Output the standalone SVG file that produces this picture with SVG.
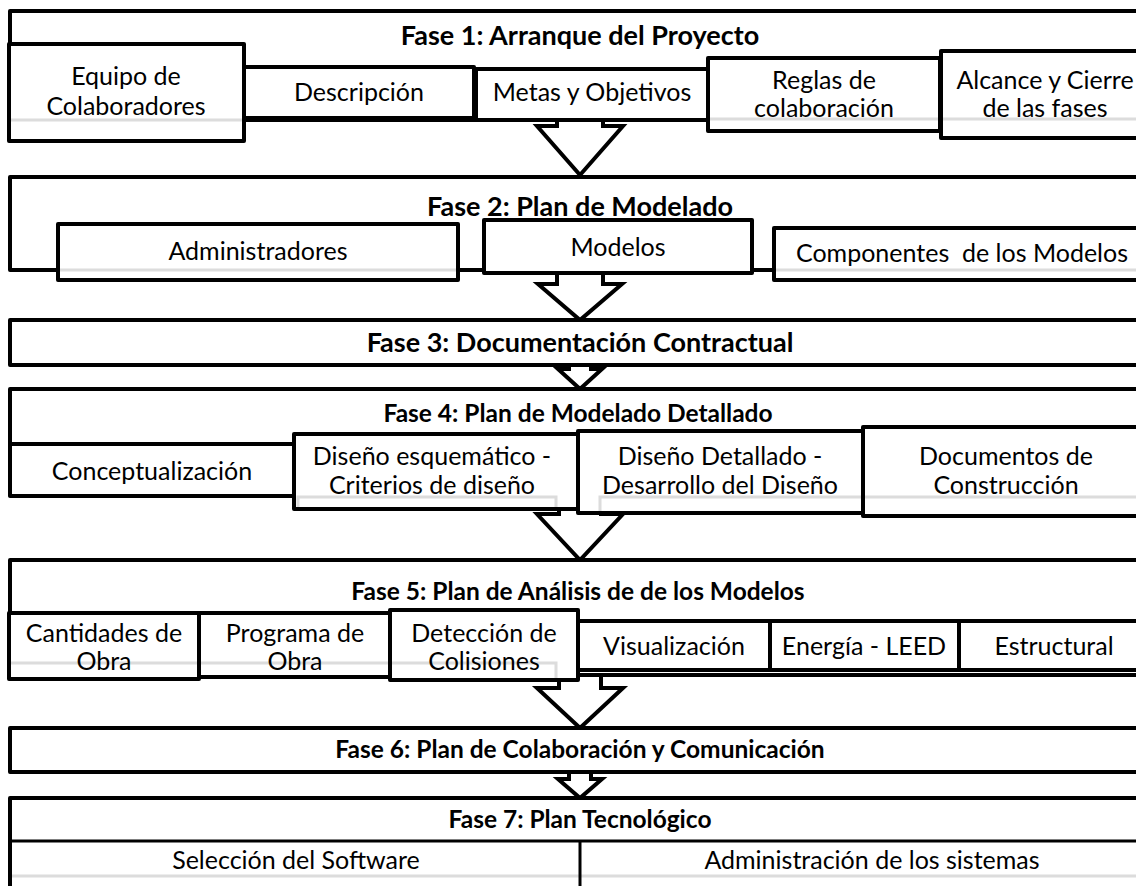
<svg xmlns="http://www.w3.org/2000/svg" width="1136" height="886" viewBox="0 0 1136 886">
  <style>
    .box{fill:#fff;stroke:#000;stroke-width:4;stroke-linejoin:round}
    .arrow{fill:#fff;stroke:#000;stroke-width:4;stroke-linejoin:miter}
    .grid{fill:none;stroke:#dcdcdc;stroke-width:3}
    .rule{fill:none;stroke:#000;stroke-width:3}
    text{font-family:Lato,"Open Sans",sans-serif;font-size:25px;fill:#000;text-anchor:middle}
    .h{font-weight:bold;font-size:27px}
    .hs{font-weight:bold;font-size:24.5px}
  </style>
  <rect width="1136" height="886" fill="#fff"/>

  <!-- flow arrows between phases -->
  <g id="connectors">
    <path class="arrow" d="M557,112 V126 H537 L580,175 L623,126 H603 V112 Z"/>
    <path class="arrow" d="M557,265 V284 H538 L580,320 L622,284 H603 V265 Z"/>
    <path class="arrow" d="M569,355 V369 H558 L580,389 L602,369 H591 V355 Z"/>
    <path class="arrow" d="M559,505 V514 H537 L580,560 L623,514 H601 V505 Z"/>
    <path class="arrow" d="M559,670 V688 H537 L580,728 L623,688 H601 V670 Z"/>
    <path class="arrow" d="M569,766 V779 H558 L580,798 L602,779 H591 V766 Z"/>
  </g>

  <!-- Fase 1 -->
  <g id="fase1">
    <rect class="box" x="10" y="11" width="1140" height="109"/>
    <text class="h" x="580" y="45">Fase 1: Arranque del Proyecto</text>
  </g>
  <g id="equipo">
    <rect class="box" x="9" y="44" width="235" height="97"/>
    <line class="grid" x1="11" y1="120" x2="242" y2="120"/>
    <text x="126" y="85">Equipo de</text>
    <text x="126" y="115">Colaboradores</text>
  </g>
  <g id="descripcion">
    <rect class="box" x="244" y="67" width="230" height="51"/>
    <text x="359" y="101">Descripción</text>
  </g>
  <g id="metas">
    <rect class="box" x="476" y="69" width="232" height="51"/>
    <text x="592" y="101">Metas y Objetivos</text>
  </g>
  <g id="reglas">
    <rect class="box" x="708" y="58" width="232" height="73"/>
    <line class="grid" x1="710" y1="119" x2="938" y2="119"/>
    <text x="824" y="89">Reglas de</text>
    <text x="824" y="117">colaboración</text>
  </g>
  <g id="alcance">
    <rect class="box" x="941" y="51" width="210" height="87"/>
    <line class="grid" x1="943" y1="119" x2="1149" y2="119"/>
    <text x="1045" y="89">Alcance y Cierre</text>
    <text x="1045" y="117">de las fases</text>
  </g>

  <!-- Fase 2 -->
  <g id="fase2">
    <rect class="box" x="10" y="177" width="1140" height="93"/>
    <text class="h" x="580" y="216">Fase 2: Plan de Modelado</text>
  </g>
  <g id="administradores">
    <rect class="box" x="58" y="224" width="400" height="56"/>
    <line class="grid" x1="60" y1="270" x2="456" y2="270"/>
    <text x="258" y="260">Administradores</text>
  </g>
  <g id="modelos">
    <rect class="box" x="484" y="220" width="268" height="53"/>
    <text x="618" y="256">Modelos</text>
  </g>
  <g id="componentes">
    <rect class="box" x="774" y="228" width="380" height="52"/>
    <line class="grid" x1="776" y1="270" x2="1152" y2="270"/>
    <text x="962" y="262">Componentes&#160; de los Modelos</text>
  </g>

  <!-- Fase 3 -->
  <g id="fase3">
    <rect class="box" x="10" y="320" width="1140" height="45"/>
    <text class="h" x="580" y="352">Fase 3: Documentación Contractual</text>
  </g>

  <!-- Fase 4 -->
  <g id="fase4">
    <rect class="box" x="10" y="389" width="1140" height="106"/>
    <text class="hs" x="578" y="422">Fase 4: Plan de Modelado Detallado</text>
  </g>
  <g id="conceptualizacion">
    <rect class="box" x="10" y="444" width="284" height="52"/>
    <text x="152" y="480">Conceptualización</text>
  </g>
  <g id="diseno-esquematico">
    <rect class="box" x="294" y="434" width="284" height="75"/>
    <path class="grid" d="M298,507 V497 H556 V507"/>
    <text x="432" y="465">Diseño esquemático -</text>
    <text x="432" y="494">Criterios de diseño</text>
  </g>
  <g id="diseno-detallado">
    <rect class="box" x="578" y="431" width="285" height="82"/>
    <path class="grid" d="M600,511 V497 H861"/>
    <text x="720" y="465">Diseño Detallado -</text>
    <text x="720" y="494">Desarrollo del Diseño</text>
  </g>
  <g id="documentos">
    <rect class="box" x="863" y="427" width="290" height="89"/>
    <line class="grid" x1="865" y1="497" x2="1151" y2="497"/>
    <text x="1006" y="465">Documentos de</text>
    <text x="1006" y="494">Construcción</text>
  </g>

  <!-- Fase 5 -->
  <g id="fase5">
    <rect class="box" x="10" y="560" width="1140" height="115"/>
    <text class="hs" x="578" y="600">Fase 5: Plan de Análisis de de los Modelos</text>
  </g>
  <g id="cantidades">
    <rect class="box" x="9" y="613" width="190" height="66"/>
    <line class="grid" x1="11" y1="663" x2="197" y2="663"/>
    <text x="104" y="642">Cantidades de</text>
    <text x="104" y="670">Obra</text>
  </g>
  <g id="programa">
    <rect class="box" x="199" y="613" width="191" height="64"/>
    <line class="grid" x1="201" y1="663" x2="388" y2="663"/>
    <text x="295" y="642">Programa de</text>
    <text x="295" y="670">Obra</text>
  </g>
  <g id="deteccion">
    <rect class="box" x="390" y="610" width="188" height="70"/>
    <path class="grid" d="M392,663 H556 V678"/>
    <text x="484" y="642">Detección de</text>
    <text x="484" y="670">Colisiones</text>
  </g>
  <g id="visualizacion">
    <rect class="box" x="578" y="621" width="192" height="49"/>
    <text x="674" y="655">Visualización</text>
  </g>
  <g id="energia">
    <rect class="box" x="770" y="621" width="189" height="49"/>
    <text x="864" y="655">Energía - LEED</text>
  </g>
  <g id="estructural">
    <rect class="box" x="959" y="621" width="194" height="49"/>
    <text x="1054" y="655">Estructural</text>
  </g>

  <!-- Fase 6 -->
  <g id="fase6">
    <rect class="box" x="10" y="728" width="1140" height="44"/>
    <text class="hs" x="580" y="758">Fase 6: Plan de Colaboración y Comunicación</text>
  </g>

  <!-- Fase 7 -->
  <g id="fase7">
    <rect class="box" x="10" y="798" width="1140" height="100"/>
    <text class="hs" x="580" y="828">Fase 7: Plan Tecnológico</text>
    <line class="rule" x1="10" y1="841" x2="1150" y2="841"/>
    <line class="grid" x1="12" y1="876" x2="1150" y2="876"/>
  </g>
  <g id="seleccion">
    <line class="rule" x1="580" y1="841" x2="580" y2="886"/>
    <text x="296" y="869">Selección del Software</text>
  </g>
  <g id="administracion">
    <text x="872" y="869">Administración de los sistemas</text>
  </g>
</svg>
